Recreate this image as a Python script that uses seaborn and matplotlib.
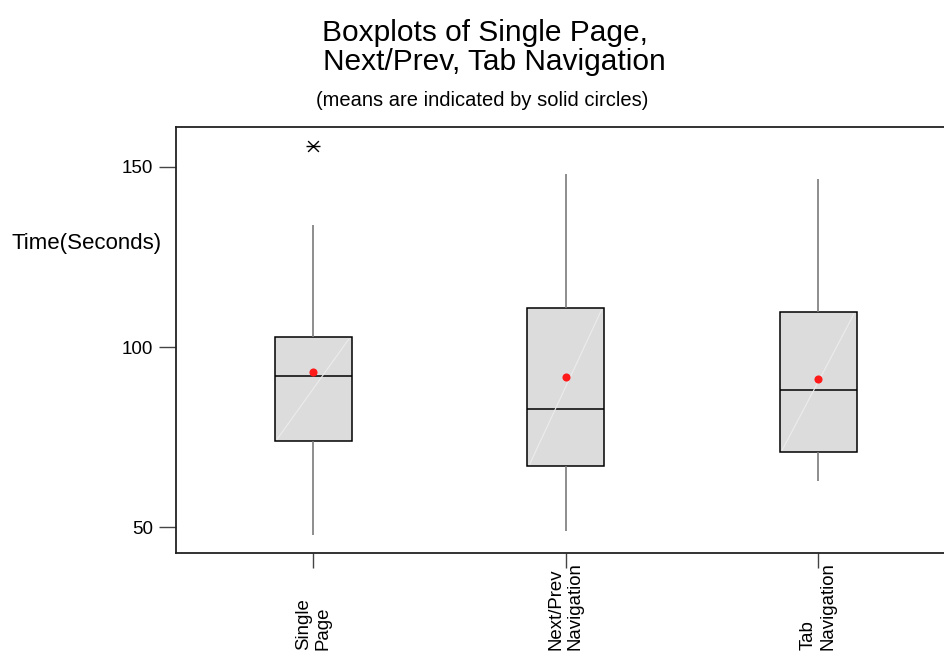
import numpy as np
import pandas as pd
import matplotlib
matplotlib.use("Agg")
import matplotlib.pyplot as plt
import matplotlib.transforms as mtransforms
import seaborn as sns

categories = ["Single\nPage", "Next/Prev\nNavigation", "Tab\nNavigation"]
whisker_low = [47.8, 48.9, 62.8]
q1 = [73.9, 66.9, 70.8]
median = [91.9, 82.8, 88.1]
q3 = [102.8, 110.8, 109.7]
whisker_high = [133.9, 148.1, 146.7]
means = [93.1, 91.7, 91.1]
outlier_cat = ["Single\nPage"]
outlier_val = [155.8]
yticks = [50, 100, 150]

sns.set_style("white")
plt.rcParams['font.family'] = ['Liberation Sans', 'DejaVu Sans']
plt.rcParams['text.color'] = 'black'
plt.rcParams['xtick.color'] = 'black'
plt.rcParams['ytick.color'] = 'black'

rows = []
for c, a, b, m, d, e in zip(categories, whisker_low, q1, median, q3, whisker_high):
    for v in (a, b, m, d, e):
        rows.append({"cat": c, "val": v})
df = pd.DataFrame(rows)
mdf = pd.DataFrame({"cat": categories, "mean": means})
odf = pd.DataFrame({"cat": outlier_cat, "val": outlier_val})

fig = plt.figure(figsize=(9.45, 6.58), dpi=100)
ax = fig.add_axes([176/945, 1-553/658, (945-176)/945, (553-127)/658])

box_w = 0.305
sns.boxplot(data=df, x="cat", y="val", order=categories, ax=ax, width=box_w,
            color="#dcdcdc", saturation=1, linewidth=1.0, whis=1.5,
            boxprops=dict(facecolor="#dcdcdc", edgecolor="black", linewidth=1.1),
            medianprops=dict(color="black", linewidth=1.1),
            whiskerprops=dict(color="#7a7a7a", linewidth=1.2),
            capprops=dict(linewidth=0), showfliers=False)

# faint diagonal shading line inside each box
for i, (b, d) in enumerate(zip(q1, q3)):
    ax.plot([i - box_w/2 + 0.01, i + box_w/2 - 0.01], [b + 0.5, d - 0.5],
            color="#ececec", linewidth=0.8, zorder=3)

sns.scatterplot(data=mdf, x="cat", y="mean", ax=ax, color="#ff1a1a",
                s=34, edgecolor="#ff1a1a", linewidth=0, zorder=5)
sns.scatterplot(data=odf, x="cat", y="val", ax=ax, marker="x", color="black",
                s=60, linewidth=1.0, zorder=5)
sns.scatterplot(data=odf, x="cat", y="val", ax=ax, marker="_", color="black",
                s=110, linewidth=1.0, zorder=5)

ax.set_xlim(-0.543, 2.503)
ax.set_ylim(42.8, 161.1)
ax.set_yticks(yticks)
ax.set_yticklabels([str(v) for v in yticks], fontsize=13.5)
ax.set_xticks([0, 1, 2])
ax.set_xticklabels([])
ax.tick_params(axis="y", direction="out", length=12.5, width=1,
               color="#444444", pad=4, left=True)
ax.tick_params(axis="x", direction="out", length=11, width=1,
               color="#444444", bottom=True)
ax.set_xlabel("")
ax.set_ylabel("")
for s in ["top", "left", "bottom"]:
    ax.spines[s].set_visible(True)
    ax.spines[s].set_color("#222222")
    ax.spines[s].set_linewidth(1.3)
ax.spines["right"].set_visible(False)

trans = mtransforms.blended_transform_factory(ax.transData, fig.transFigure)
for i, c in enumerate(categories):
    ax.text(i, 1 - 650/658, c, rotation=90, fontsize=13.4, ha="center", va="bottom",
            multialignment="left", transform=trans, clip_on=False)

fig.text(322/945, 1-33/658, "Boxplots of Single Page,", fontsize=21.5, ha="left", va="center")
fig.text(323/945, 1-62/658, "Next/Prev, Tab Navigation", fontsize=21.5, ha="left", va="center")
fig.text(316/945, 1-101/658, "(means are indicated by solid circles)", fontsize=14.5, ha="left", va="center")
fig.text(12/945, 1-244/658, "Time(Seconds)", fontsize=16, ha="left", va="center")

fig.savefig("out.png", dpi=100)
